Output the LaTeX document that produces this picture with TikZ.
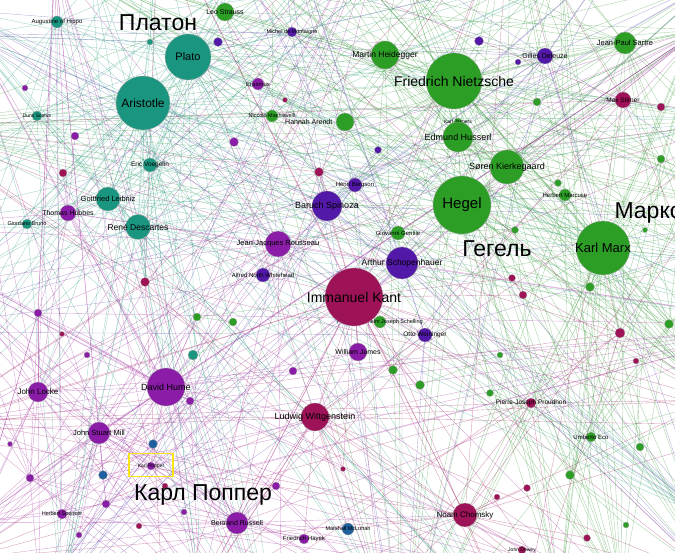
\documentclass[tikz,border=0pt]{standalone}
\usepackage{fontspec}
\setmainfont{Liberation Sans}
\usetikzlibrary{backgrounds}

\definecolor{tealn}{RGB}{26,150,128}
\definecolor{greenn}{RGB}{44,158,38}
\definecolor{crimn}{RGB}{158,18,88}
\definecolor{purpn}{RGB}{138,28,168}
\definecolor{indn}{RGB}{82,24,168}
\definecolor{bluen}{RGB}{30,96,158}
\definecolor{tealedge}{RGB}{60,165,140}
\definecolor{greenedge}{RGB}{70,160,70}
\definecolor{purpedge}{RGB}{165,60,165}
\definecolor{indedge}{RGB}{100,90,180}
\definecolor{crimedge}{RGB}{170,50,110}
\definecolor{markbox}{RGB}{250,230,20}

\begin{document}
\begin{tikzpicture}[
    x=1pt, y=-1pt,
    hub/.style={circle, draw=black!35, line width=0.3pt, inner sep=0pt},
    fs/.style={font=\fontsize{#1}{#1}\selectfont},
    ru/.style={font=\fontsize{23}{23}\selectfont},
    wire/.style={line width=0.35pt, draw opacity=0.5}
  ]
    \useasboundingbox (0,0) rectangle (675,553);

    % small dots
    \node[hub, fill=tealn, minimum size=6pt]  (t1) at (150,42) {};
    \node[hub, fill=tealn, minimum size=10pt] (t2) at (193,355) {};
    \node[hub, fill=greenn, minimum size=8pt] (g1) at (537,102) {};
    \node[hub, fill=greenn, minimum size=8pt] (g2) at (661,159) {};
    \node[hub, fill=greenn, minimum size=7pt] (g3) at (558,183) {};
    \node[hub, fill=greenn, minimum size=7pt] (g4) at (515,230) {};
    \node[hub, fill=greenn, minimum size=9pt] (g5) at (590,287) {};
    \node[hub, fill=greenn, minimum size=9pt] (g6) at (669,324) {};
    \node[hub, fill=greenn, minimum size=9pt] (g7) at (393,370) {};
    \node[hub, fill=greenn, minimum size=9pt] (g8) at (420,385) {};
    \node[hub, fill=greenn, minimum size=7pt] (g9) at (490,393) {};
    \node[hub, fill=greenn, minimum size=8pt] (g10) at (640,447) {};
    \node[hub, fill=greenn, minimum size=9pt] (g11) at (570,475) {};
    \node[hub, fill=greenn, minimum size=6pt] (g12) at (626,525) {};
    \node[hub, fill=greenn, minimum size=8pt] (g13) at (197,317) {};
    \node[hub, fill=greenn, minimum size=8pt] (g14) at (233,322) {};
    \node[hub, fill=greenn, minimum size=5pt] (g15) at (645,230) {};
    \node[hub, fill=greenn, minimum size=6pt] (g16) at (500,355) {};
    \node[hub, fill=crimn, minimum size=8pt]  (c1) at (63,173) {};
    \node[hub, fill=crimn, minimum size=9pt]  (c2) at (319,172) {};
    \node[hub, fill=crimn, minimum size=9pt]  (c3) at (145,282) {};
    \node[hub, fill=crimn, minimum size=5pt]  (c4) at (285,100) {};
    \node[hub, fill=crimn, minimum size=8pt]  (c5) at (661,107) {};
    \node[hub, fill=crimn, minimum size=7pt]  (c6) at (512,278) {};
    \node[hub, fill=crimn, minimum size=8pt]  (c7) at (523,295) {};
    \node[hub, fill=crimn, minimum size=10pt] (c8) at (620,333) {};
    \node[hub, fill=crimn, minimum size=6pt]  (c9) at (636,361) {};
    \node[hub, fill=crimn, minimum size=7pt]  (c10) at (527,488) {};
    \node[hub, fill=crimn, minimum size=6pt]  (c11) at (497,497) {};
    \node[hub, fill=crimn, minimum size=7pt]  (c12) at (587,538) {};
    \node[hub, fill=crimn, minimum size=5pt]  (c13) at (343,469) {};
    \node[hub, fill=crimn, minimum size=6pt]  (c14) at (139,526) {};
    \node[hub, fill=crimn, minimum size=6pt]  (c15) at (165,486) {};
    \node[hub, fill=crimn, minimum size=5pt]  (c16) at (62,334) {};
    \node[hub, fill=purpn, minimum size=6pt]  (p1) at (25,88) {};
    \node[hub, fill=purpn, minimum size=8pt]  (p2) at (75,136) {};
    \node[hub, fill=purpn, minimum size=9pt]  (p3) at (234,142) {};
    \node[hub, fill=purpn, minimum size=8pt]  (p4) at (190,401) {};
    \node[hub, fill=purpn, minimum size=8pt]  (p5) at (38,313) {};
    \node[hub, fill=purpn, minimum size=6pt]  (p6) at (87,355) {};
    \node[hub, fill=purpn, minimum size=8pt]  (p7) at (293,371) {};
    \node[hub, fill=purpn, minimum size=5pt]  (p8) at (10,444) {};
    \node[hub, fill=purpn, minimum size=8pt]  (p9) at (30,478) {};
    \node[hub, fill=purpn, minimum size=8pt]  (p10) at (106,504) {};
    \node[hub, fill=purpn, minimum size=6pt]  (p11) at (79,535) {};
    \node[hub, fill=purpn, minimum size=6pt]  (p12) at (184,512) {};
    \node[hub, fill=purpn, minimum size=8pt]  (p13) at (276,486) {};
    \node[hub, fill=indn, minimum size=9pt]   (i1) at (218,42) {};
    \node[hub, fill=indn, minimum size=9pt]   (i2) at (479,41) {};
    \node[hub, fill=indn, minimum size=6pt]   (i3) at (518,62) {};
    \node[hub, fill=indn, minimum size=7pt]   (i4) at (378,150) {};
    \node[hub, fill=bluen, minimum size=9pt]  (b1) at (153,444) {};
    \node[hub, fill=bluen, minimum size=9pt]  (b2) at (103,475) {};

    % named thinkers
    \node[hub, fill=tealn, minimum size=12pt, label={[fs=6]center:Augustine of Hippo}] (augustine) at (57,22) {};
    \node[hub, fill=tealn, minimum size=10pt, label={[fs=5]center:Duns Scotus}] (scotus) at (37,116) {};
    \node[hub, fill=tealn, minimum size=10pt, label={[fs=5.5]center:Giordano Bruno}] (bruno) at (27,224) {};
    \node[hub, fill=tealn, minimum size=14pt, label={[fs=6.5]center:Eric Voegelin}] (voegelin) at (150,165) {};
    \node[hub, fill=indn, minimum size=10pt, label={[fs=5.5]center:Michel de Montaigne}] (montaigne) at (292,32) {};
    \node[hub, fill=purpn, minimum size=12pt, label={[fs=6]center:Erasmus}] (erasmus) at (258,84) {};
    \node[hub, fill=greenn, minimum size=12pt, label={[fs=5.5]center:Niccolò Machiavelli}] (machiavelli) at (272,116) {};
    \node[hub, fill=greenn, minimum size=18pt, label={[fs=7]center:Leo Strauss}] (strauss) at (225,12) {};
    \node[hub, fill=greenn, minimum size=18pt, label={[fs=7]left:Hannah Arendt}] (arendt) at (345,122) {};
    \node[hub, fill=greenn, minimum size=8pt, label={[fs=5]center:Karl Jaspers}] (jaspers) at (458,122) {};
    \node[hub, fill=indn, minimum size=14pt, label={[fs=6]center:Henri Bergson}] (bergson) at (355,185) {};
    \node[hub, fill=greenn, minimum size=14pt, label={[fs=6]center:Giovanni Gentile}] (gentile) at (398,233) {};
    \node[hub, fill=greenn, minimum size=12pt, label={[fs=6]center:Herbert Marcuse}] (marcuse) at (565,195) {};
    \node[hub, fill=crimn, minimum size=16pt, label={[fs=6.5]center:Max Stirner}] (stirner) at (623,100) {};
    \node[hub, fill=indn, minimum size=16pt, label={[fs=7]center:Gilles Deleuze}] (deleuze) at (545,56) {};
    \node[hub, fill=greenn, minimum size=22pt, label={[fs=7.5]center:Jean-Paul Sartre}] (sartre) at (625,43) {};
    \node[hub, fill=purpn, minimum size=16pt, label={[fs=7]center:Thomas Hobbes}] (hobbes) at (68,213) {};
    \node[hub, fill=tealn, minimum size=24pt, label={[fs=7.5]center:Gottfried Leibniz}] (leibniz) at (108,199) {};
    \node[hub, fill=tealn, minimum size=25pt, label={[fs=8.5]center:René Descartes}] (descartes) at (138,227) {};
    \node[hub, fill=indn, minimum size=14pt, label={[fs=6]center:Alfred North Whitehead}] (whitehead) at (263,275) {};
    \node[hub, fill=purpn, minimum size=26pt, label={[fs=7.5]center:Jean-Jacques Rousseau}] (rousseau) at (278,244) {};
    \node[hub, fill=greenn, minimum size=12pt, label={[fs=5.5]center:Friedrich Wilhelm Joseph Schelling}] (schelling) at (380,322) {};
    \node[hub, fill=indn, minimum size=14pt, label={[fs=6.5]center:Otto Weininger}] (weininger) at (425,335) {};
    \node[hub, fill=purpn, minimum size=18pt, label={[fs=7]center:William James}] (james) at (358,352) {};
    \node[hub, fill=crimn, minimum size=10pt, label={[fs=6.5]center:Pierre-Joseph Proudhon}] (proudhon) at (531,403) {};
    \node[hub, fill=greenn, minimum size=10pt, label={[fs=6]center:Umberto Eco}] (eco) at (591,437) {};
    \node[hub, fill=crimn, minimum size=8pt, label={[fs=5]center:John Dewey}] (dewey) at (522,550) {};
    \node[hub, fill=purpn, minimum size=20pt, label={[fs=8]center:John Locke}] (locke) at (38,392) {};
    \node[hub, fill=purpn, minimum size=22pt, label={[fs=7.5]center:John Stuart Mill}] (mill) at (99,433) {};
    \node[hub, fill=purpn, minimum size=8pt, label={[fs=5]center:Karl Popper}] (popper) at (151,466) {};
    \node[hub, fill=purpn, minimum size=10pt, label={[fs=5.5]center:Herbert Spencer}] (spencer) at (62,514) {};
    \node[hub, fill=purpn, minimum size=22pt, label={[fs=7]center:Bertrand Russell}] (russell) at (237,523) {};
    \node[hub, fill=purpn, minimum size=10pt, label={[fs=6]center:Friedrich Hayek}] (hayek) at (304,539) {};
    \node[hub, fill=bluen, minimum size=12pt, label={[fs=5.5]center:Marshall McLuhan}] (mcluhan) at (348,529) {};
    \node[hub, fill=crimn, minimum size=24pt, label={[fs=8]center:Noam Chomsky}] (chomsky) at (465,515) {};
    \node[hub, fill=crimn, minimum size=28pt, label={[fs=9]center:Ludwig Wittgenstein}] (wittgenstein) at (315,417) {};
    \node[hub, fill=purpn, minimum size=38pt, label={[fs=9]center:David Hume}] (hume) at (166,387) {};
    \node[hub, fill=greenn, minimum size=28pt, label={[fs=8.5]center:Martin Heidegger}] (heidegger) at (385,55) {};
    \node[hub, fill=greenn, minimum size=30pt, label={[fs=9]center:Edmund Husserl}] (husserl) at (458,137) {};
    \node[hub, fill=greenn, minimum size=34pt, label={[fs=9]center:Søren Kierkegaard}] (kierkegaard) at (507,167) {};
    \node[hub, fill=indn, minimum size=30pt, label={[fs=9]center:Baruch Spinoza}] (spinoza) at (327,206) {};
    \node[hub, fill=indn, minimum size=32pt, label={[fs=8.5]center:Arthur Schopenhauer}] (schopenhauer) at (402,263) {};
    \node[hub, fill=tealn, minimum size=46pt, label={[fs=11]center:Plato}] (plato) at (188,57) {};
    \node[hub, fill=tealn, minimum size=54pt, label={[fs=12]center:Aristotle}] (aristotle) at (143,103) {};
    \node[hub, fill=greenn, minimum size=56pt, label={[fs=14]center:Friedrich Nietzsche}] (nietzsche) at (454,81) {};
    \node[hub, fill=greenn, minimum size=58pt, label={[fs=15]center:Hegel}] (hegel) at (462,205) {};
    \node[hub, fill=greenn, minimum size=54pt, label={[fs=13]center:Karl Marx}] (marx) at (603,248) {};
    \node[hub, fill=crimn, minimum size=58pt, label={[fs=14]center:Immanuel Kant}] (kant) at (354,297) {};

    % marked node and russian captions
    \node[draw=markbox, line width=1.6pt, minimum width=44pt, minimum height=23pt] (popbox) at (151,465) {};
    \node[ru] (platon) at (158,23) {Платон};
    \node[ru] (gegel) at (497,249) {Гегель};
    \node[ru, anchor=west] (marks) at (611,213) {Маркс};
    \node[ru] (popperru) at (203,495) {Карл Поппер};

    % free ends off the page
    \coordinate (oa) at (-40,10);   \coordinate (ob) at (-40,140);
    \coordinate (oc) at (-40,280);  \coordinate (od) at (-40,420);
    \coordinate (oe) at (-40,560);  \coordinate (of) at (90,-40);
    \coordinate (og) at (240,-40);  \coordinate (oh) at (400,-40);
    \coordinate (oi) at (560,-40);  \coordinate (oj) at (715,-20);
    \coordinate (ok) at (715,120);  \coordinate (ol) at (715,260);
    \coordinate (om) at (715,400);  \coordinate (on) at (715,580);
    \coordinate (oo) at (560,595);  \coordinate (op) at (380,595);
    \coordinate (oq) at (200,595);  \coordinate (or) at (40,595);
    \foreach \i in {0,...,23}
      \coordinate (e\i) at ({338+460*cos(15*\i+7)},{276+400*sin(15*\i+7)});

    \begin{scope}[on background layer]
      \clip (0,0) rectangle (675,553);
      % fans to the edges
      \foreach \h in {plato,aristotle,leibniz,descartes,voegelin}
        \foreach \o in {oa,ob,oc,of,og,oh,oq,op,ol}
          \draw[wire, tealedge] (\h) -- (\o);
      \foreach \h in {nietzsche,hegel,marx,kierkegaard,husserl,heidegger,sartre,eco,g5,g11}
        \foreach \o in {oh,oi,oj,ok,ol,om,on,oo,og}
          \draw[wire, greenedge] (\h) -- (\o);
      \foreach \h in {hume,locke,mill,russell,rousseau,p4,p9}
        \foreach \o in {oc,od,oe,or,oq,op,oa}
          \draw[wire, purpedge] (\h) -- (\o);
      \foreach \h in {kant,wittgenstein,chomsky,proudhon}
        \foreach \o in {op,oo,on,oq,od,oe,om}
          \draw[wire, crimedge] (\h) -- (\o);
      \foreach \h in {spinoza,schopenhauer,deleuze,bergson}
        \foreach \o in {oa,og,oj,on,or}
          \draw[wire, indedge] (\h) -- (\o);
      \foreach \h in {plato,aristotle,leibniz,descartes,augustine,scotus,bruno,t1,voegelin}
        \foreach \i in {0,2,...,22}
          \draw[wire, tealedge] (\h) -- (e\i);
      \foreach \h in {nietzsche,hegel,marx,kierkegaard,husserl,heidegger,sartre,g1,g2,g6,
          marcuse,gentile,arendt,strauss,machiavelli,g5}
        \foreach \i in {1,3,5,13,15,17,19,21,23}
          \draw[wire, greenedge] (\h) -- (e\i);
      \foreach \h in {hume,locke,mill,russell,rousseau,p4,p5,p9,p10,spencer,popper,hobbes}
        \foreach \i in {0,3,...,21}
          \draw[wire, purpedge] (\h) -- (e\i);
      \foreach \h in {kant,wittgenstein,chomsky,stirner,c8,c3,c2}
        \foreach \i in {1,4,...,22}
          \draw[wire, crimedge] (\h) -- (e\i);
      \foreach \h in {spinoza,schopenhauer,deleuze,bergson,weininger,montaigne}
        \foreach \i in {2,5,...,23}
          \draw[wire, indedge] (\h) -- (e\i);

      % teal links
      \foreach \a/\b in {plato/aristotle, plato/augustine, plato/strauss, plato/machiavelli,
          plato/erasmus, plato/leibniz, plato/descartes, plato/voegelin, plato/nietzsche,
          plato/hegel, plato/kant, plato/heidegger, plato/spinoza, plato/rousseau, plato/hume,
          plato/arendt, plato/montaigne, plato/t1, plato/i1, plato/c1, plato/marx, plato/p3,
          aristotle/augustine, aristotle/scotus, aristotle/bruno, aristotle/leibniz,
          aristotle/descartes, aristotle/voegelin, aristotle/hobbes, aristotle/hegel,
          aristotle/kant, aristotle/spinoza, aristotle/rousseau, aristotle/hume, aristotle/locke,
          aristotle/machiavelli, aristotle/p1, aristotle/p2, aristotle/c1, aristotle/c3,
          aristotle/t2, aristotle/nietzsche, aristotle/marx, aristotle/russell,
          leibniz/descartes, leibniz/spinoza, leibniz/kant, leibniz/hobbes, leibniz/bruno,
          descartes/spinoza, descartes/kant, descartes/hume, descartes/locke, descartes/c3,
          augustine/scotus, augustine/p1, voegelin/strauss, voegelin/c3, t2/hume, t2/kant}
        \draw[wire, tealedge] (\a) -- (\b);

      % green links
      \foreach \a/\b in {nietzsche/hegel, nietzsche/heidegger, nietzsche/husserl,
          nietzsche/kierkegaard, nietzsche/sartre, nietzsche/deleuze, nietzsche/marx,
          nietzsche/schopenhauer, nietzsche/kant, nietzsche/stirner, nietzsche/arendt,
          nietzsche/i2, nietzsche/i3, nietzsche/g1, nietzsche/spinoza, nietzsche/strauss,
          nietzsche/c2, nietzsche/bergson, hegel/marx, hegel/kierkegaard, hegel/husserl,
          hegel/kant, hegel/schopenhauer, hegel/spinoza, hegel/gentile, hegel/marcuse,
          hegel/proudhon, hegel/stirner, hegel/g4, hegel/g3, hegel/c6, hegel/schelling,
          hegel/rousseau, hegel/g7, hegel/g9, marx/proudhon, marx/marcuse, marx/stirner,
          marx/eco, marx/g5, marx/g2, marx/g6, marx/c8, marx/g15, marx/g10, marx/kant,
          marx/c7, marx/chomsky, heidegger/husserl, heidegger/arendt, heidegger/sartre,
          heidegger/jaspers, heidegger/i4, heidegger/montaigne, husserl/kierkegaard,
          husserl/sartre, husserl/jaspers, kierkegaard/sartre, kierkegaard/g3,
          sartre/deleuze, sartre/c5, sartre/g1, schelling/g7, g8/g16, g9/eco, g11/eco,
          g11/g12, g10/c9, g13/g14, g13/kant, g14/hume, gentile/schopenhauer, eco/c12}
        \draw[wire, greenedge] (\a) -- (\b);

      % purple links
      \foreach \a/\b in {hume/locke, hume/mill, hume/kant, hume/russell, hume/popper,
          hume/wittgenstein, hume/rousseau, hume/spinoza, hume/james, hume/p4, hume/p5,
          hume/p6, hume/p7, hume/b1, hume/c3, hume/g13, hume/spencer, hume/hobbes,
          locke/mill, locke/hobbes, locke/p5, locke/p6, locke/p8, locke/p9, locke/c16,
          locke/rousseau, locke/spencer, mill/popper, mill/spencer, mill/b2, mill/p9,
          mill/p10, mill/p11, mill/russell, mill/b1, mill/c15, russell/wittgenstein,
          russell/popper, russell/hayek, russell/p12, russell/p13, russell/c14,
          russell/chomsky, russell/mcluhan, russell/kant, popper/b1, popper/b2, popper/c15,
          popper/wittgenstein, rousseau/kant, rousseau/hobbes, rousseau/whitehead,
          rousseau/erasmus, rousseau/p3, james/kant, james/wittgenstein, james/p7,
          hobbes/p2, hobbes/c1, spencer/p11, p10/p11}
        \draw[wire, purpedge] (\a) -- (\b);

      % crimson links
      \foreach \a/\b in {kant/wittgenstein, kant/chomsky, kant/schopenhauer, kant/spinoza,
          kant/schelling, kant/weininger, kant/james, kant/whitehead, kant/c2, kant/c6,
          kant/c7, kant/g7, kant/g8, kant/c13, kant/proudhon, wittgenstein/chomsky,
          wittgenstein/hayek, wittgenstein/weininger, wittgenstein/p13, wittgenstein/c13,
          wittgenstein/mcluhan, chomsky/c10, chomsky/c11, chomsky/dewey, chomsky/proudhon,
          chomsky/mcluhan, chomsky/c12, proudhon/c8, proudhon/c9, stirner/c5, c7/c6}
        \draw[wire, crimedge] (\a) -- (\b);

      % indigo links
      \foreach \a/\b in {spinoza/schopenhauer, spinoza/bergson, spinoza/deleuze,
          spinoza/c2, spinoza/whitehead, spinoza/i4, schopenhauer/weininger,
          schopenhauer/bergson, deleuze/bergson, deleuze/i2, deleuze/i3, montaigne/i1,
          i1/erasmus, weininger/g8, bergson/i4}
        \draw[wire, indedge] (\a) -- (\b);
    \end{scope}
\end{tikzpicture}
\end{document}
